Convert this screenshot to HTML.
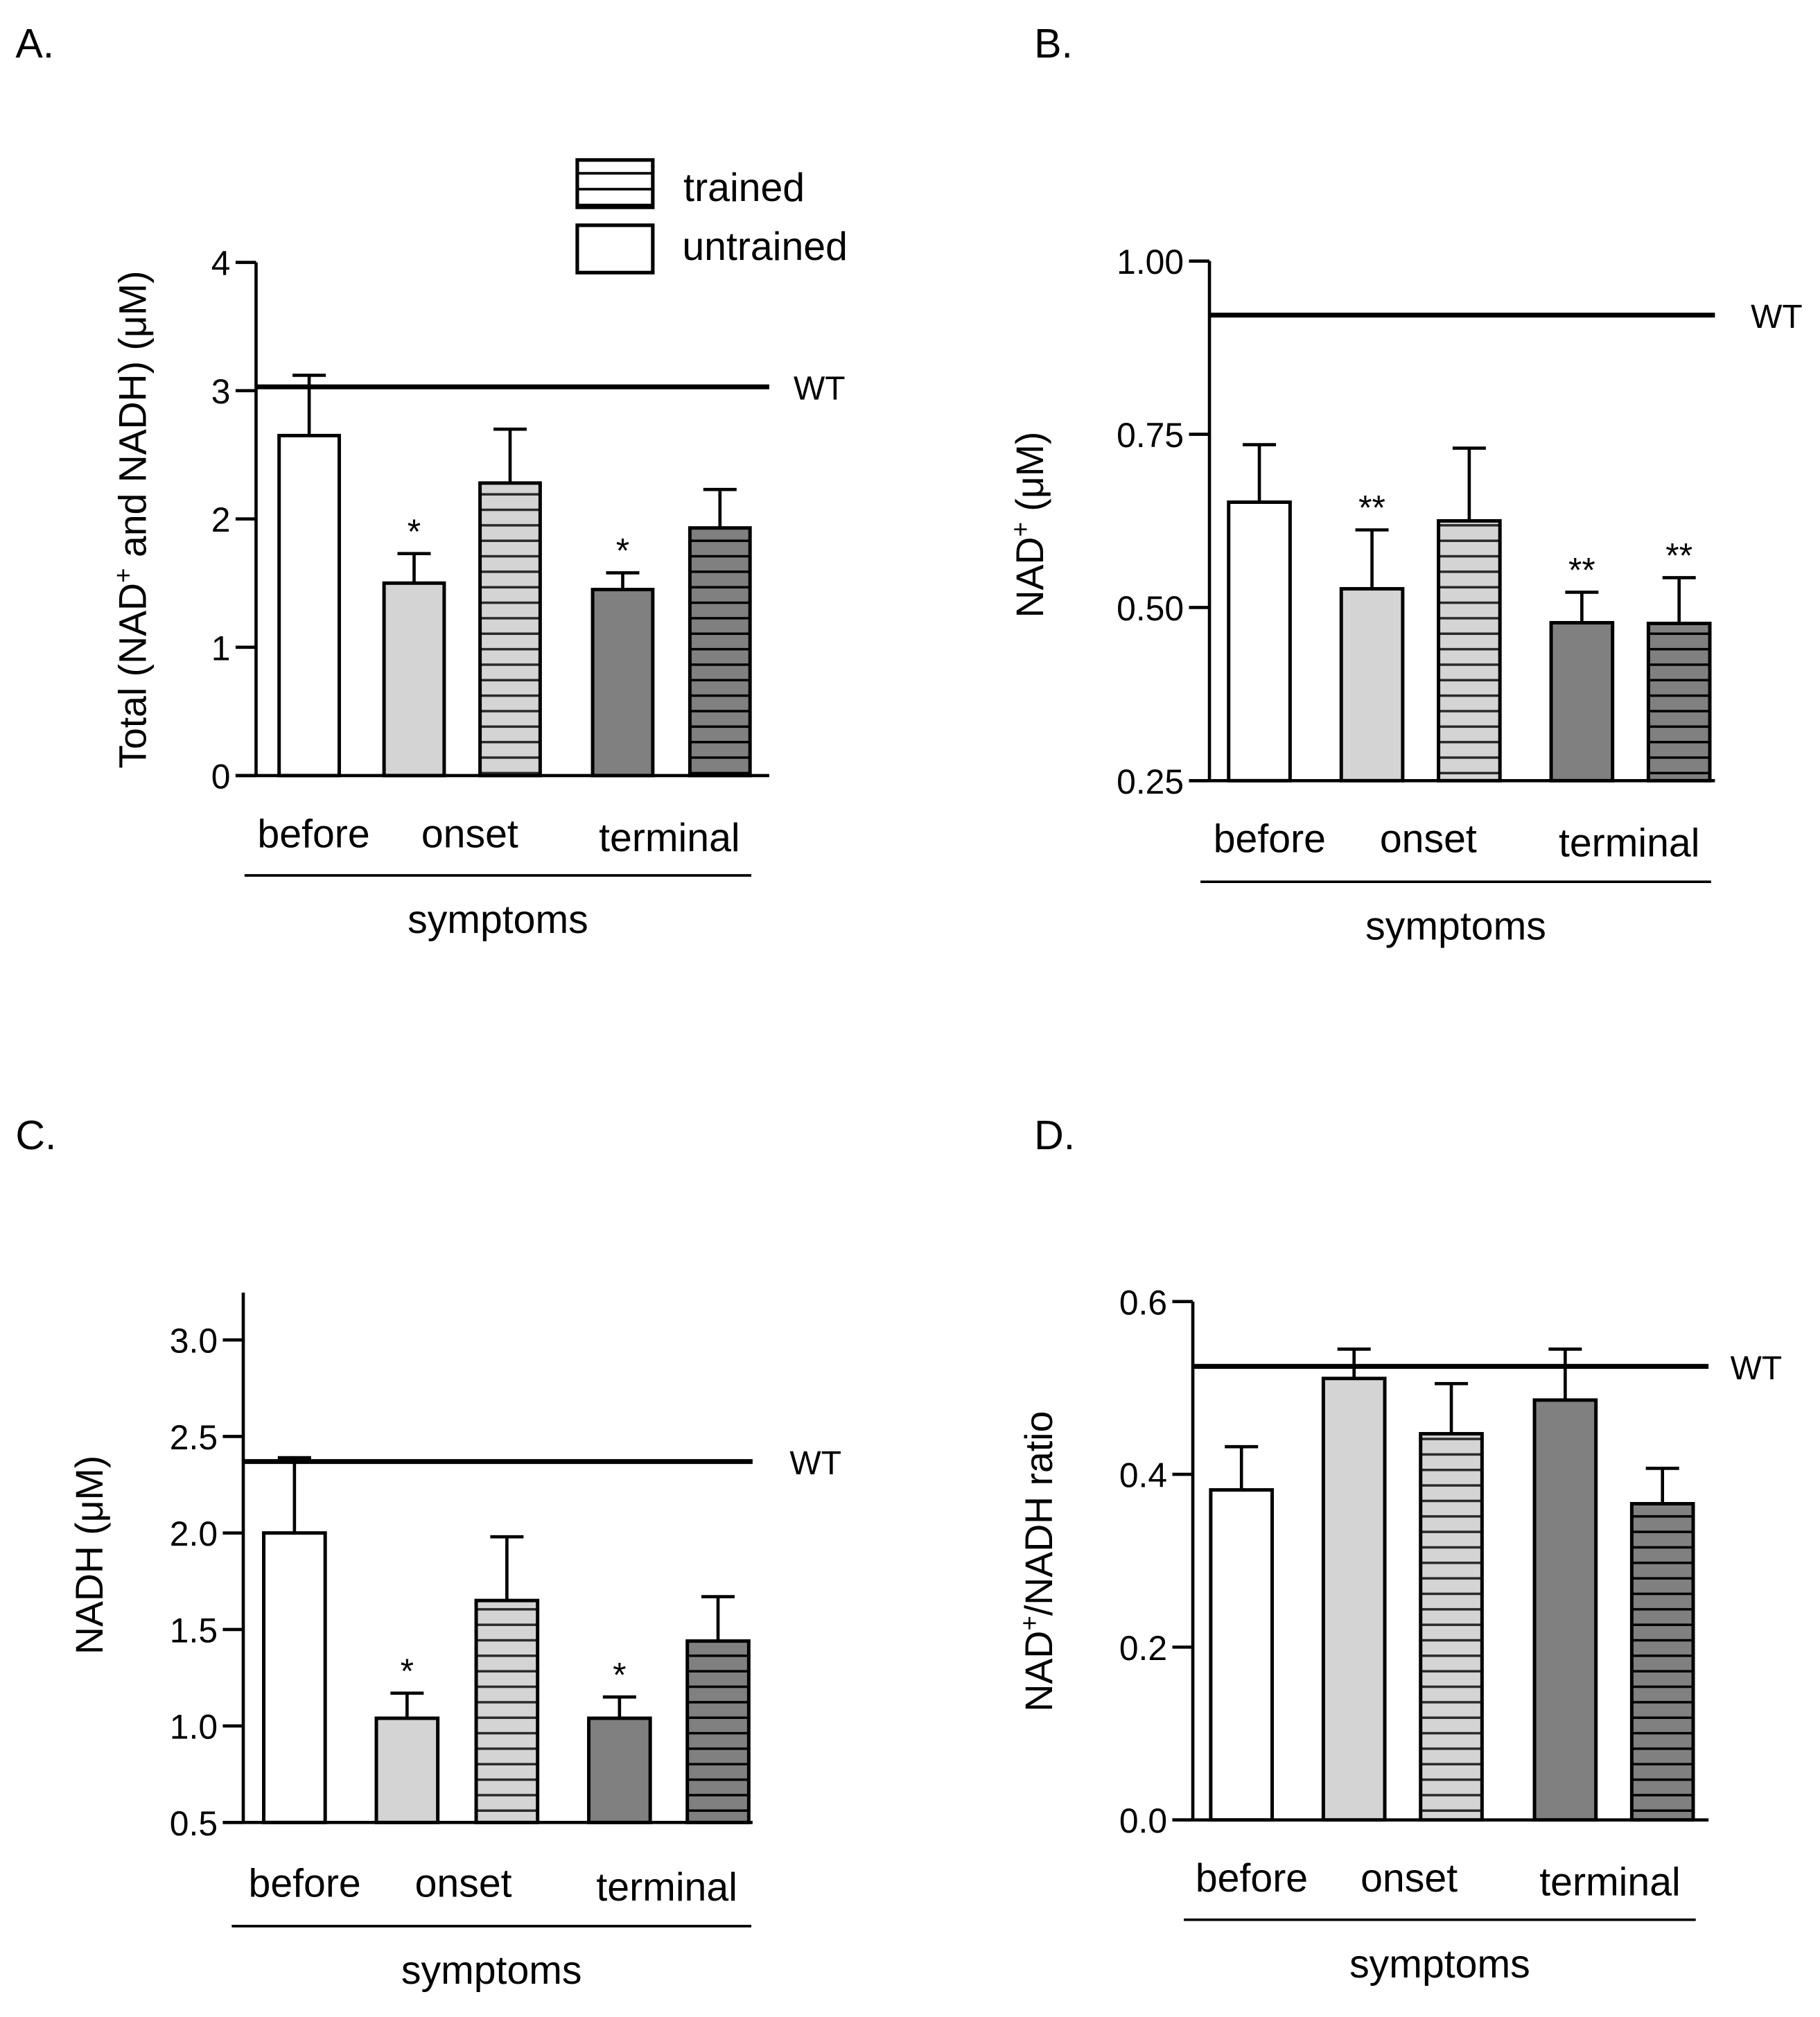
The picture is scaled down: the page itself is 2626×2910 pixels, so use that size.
<!DOCTYPE html>
<html><head><meta charset="utf-8"><style>
html,body{margin:0;padding:0;background:#fff;overflow:hidden}
svg{display:block}
text{font-family:"Liberation Sans",Arial,sans-serif;fill:#000}
</style></head><body>
<svg id="fig" width="2626" height="2910" viewBox="0 0 1422 1576" xmlns="http://www.w3.org/2000/svg">
<defs>
<pattern id="stripeLight" patternUnits="userSpaceOnUse" width="10" height="12.1"><rect width="10" height="12.1" fill="#d4d4d4"/><rect y="10.2" width="10" height="2.3" fill="#2a2a2a"/></pattern>
<pattern id="stripeDark" patternUnits="userSpaceOnUse" width="10" height="12.1"><rect width="10" height="12.1" fill="#808080"/><rect y="10.2" width="10" height="2.3" fill="#000"/></pattern>
<pattern id="stripeWhite" patternUnits="userSpaceOnUse" width="10" height="12.4"><rect width="10" height="12.4" fill="#fff"/><rect y="10.4" width="10" height="2.4" fill="#000"/></pattern>
</defs>
<g id="legend">
<rect x="451" y="125" width="59" height="37" fill="url(#stripeWhite)" stroke="#000" stroke-width="2.8"/>
<text x="534" y="157" font-size="31">trained</text>
<rect x="451" y="176" width="59" height="37" fill="#fff" stroke="#000" stroke-width="2.8"/>
<text x="533" y="203" font-size="31">untrained</text>
</g>
</svg>
<script>
// Panel data (values and error-bar tops), order: before, onset-untrained, onset-trained, terminal-untrained, terminal-trained
const aValues=[2.65,1.50,2.28,1.45,1.93];
const aErrTops=[3.12,1.73,2.70,1.58,2.23];
const aWT=3.03;
const aTicks=["0","1","2","3","4"];
const aTickVals=[0,1,2,3,4];
const aStars=["","*","","*",""];

const bValues=[0.652,0.527,0.625,0.478,0.477];
const bErrTops=[0.735,0.612,0.730,0.522,0.543];
const bWT=0.922;
const bTicks=["0.25","0.50","0.75","1.00"];
const bTickVals=[0.25,0.5,0.75,1.0];
const bStars=["","**","","**","**"];

const cValues=[2.00,1.04,1.65,1.04,1.44];
const cErrTops=[2.39,1.17,1.98,1.15,1.67];
const cWT=2.37;
const cTicks=["0.5","1.0","1.5","2.0","2.5","3.0"];
const cTickVals=[0.5,1.0,1.5,2.0,2.5,3.0];
const cStars=["","*","","*",""];

const dValues=[0.382,0.511,0.447,0.486,0.366];
const dErrTops=[0.432,0.545,0.505,0.545,0.407];
const dWT=0.525;
const dTicks=["0.0","0.2","0.4","0.6"];
const dTickVals=[0,0.2,0.4,0.6];
const dStars=["","","","",""];

const categories=["before","onset","terminal"];
const fills=["#fff","#d4d4d4","url(#stripeLight)","#808080","url(#stripeDark)"];

const NS="http://www.w3.org/2000/svg";
const svg=document.getElementById('fig');
function mk(tag,attrs,parent){const e=document.createElementNS(NS,tag);for(const k in attrs)e.setAttribute(k,attrs[k]);(parent||svg).appendChild(e);return e;}

function panel(cfg){
  const g=mk('g',{});
  
  
  const y=v=>cfg.y0+(v-cfg.vmin)/(cfg.vmax-cfg.vmin)*(cfg.y1-cfg.y0);
  const lab=mk('text',{x:cfg.labX,y:cfg.labY,'font-size':32},g);lab.textContent=cfg.letter;
  
  
  const ya=mk('line',{x1:cfg.ax,y1:cfg.axTop,x2:cfg.ax,y2:cfg.y0,stroke:'#000','stroke-width':2.5},g);
  
  
  const xa=mk('line',{x1:cfg.ax-16,y1:cfg.y0,x2:cfg.axEnd,y2:cfg.y0,stroke:'#000','stroke-width':2.5},g);
  
  
  cfg.tickVals.forEach((tv,i)=>{
    const ty=y(tv);
    const tl=mk('line',{x1:cfg.ax-16,y1:ty,x2:cfg.ax,y2:ty,stroke:'#000','stroke-width':2.5},g);
    
    
    const tt=mk('text',{x:cfg.ax-20,y:ty+10,'font-size':27,'text-anchor':'end'},g);tt.textContent=cfg.ticks[i];
    
    
  });
  const tt=mk('text',{x:0,y:0,'font-size':30,'text-anchor':'middle',transform:`translate(${cfg.titleX},${cfg.titleY}) rotate(-90)`},g);
  tt.innerHTML=cfg.title;
  
  
  cfg.values.forEach((v,i)=>{
    const bx=cfg.barX[i], bw=cfg.barW;
    const top=y(v), et=y(cfg.errTops[i]), cx=bx+bw/2;
    const el=mk('line',{x1:cx,y1:et,x2:cx,y2:top,stroke:'#000','stroke-width':2.5},g);
    
    
    const ec=mk('line',{x1:cx-13,y1:et,x2:cx+13,y2:et,stroke:'#000','stroke-width':2.5},g);
    
    
    const r=mk('rect',{x:bx,y:top,width:bw,height:cfg.y0-top,fill:fills[i],stroke:'#000','stroke-width':2.7},g);
    
    
    if(cfg.stars[i]){
      const s=mk('text',{x:cx,y:et-8,'font-size':27,'text-anchor':'middle'},g);s.textContent=cfg.stars[i];
      
      
    }
  });
  const wy=y(cfg.wt);
  const wl=mk('line',{x1:cfg.ax,y1:wy,x2:cfg.axEnd,y2:wy,stroke:'#000','stroke-width':3.8},g);
  
  
  const wt=mk('text',{x:cfg.wtX,y:wy+10,'font-size':26},g);wt.textContent='WT';
  
  
  categories.forEach((c,i)=>{
    const ct=mk('text',{x:cfg.catX[i],y:cfg.catY+(i==2?3:0),'font-size':31,'text-anchor':'middle'},g);ct.textContent=c;
    
    
  });
  const sl=mk('line',{x1:cfg.symL,y1:cfg.symY,x2:cfg.symR,y2:cfg.symY,stroke:'#000','stroke-width':2},g);
  
  
  const st=mk('text',{x:(cfg.symL+cfg.symR)/2,y:cfg.symY+45,'font-size':31,'text-anchor':'middle'},g);st.textContent='symptoms';
  
  
}
const sup='<tspan baseline-shift="super" font-size="20">+</tspan>';
panel({name:'panel-a-total-nad',letter:'A.',labX:12,labY:45,ax:200,axTop:205,axEnd:601,y0:606,y1:205,vmin:0,vmax:4,
 ticks:aTicks,tickVals:aTickVals,values:aValues,errTops:aErrTops,wt:aWT,stars:aStars,
 barX:[218,300,375,463,539],barW:47,wtX:620,title:'Total (NAD'+sup+' and NADH) (μM)',titleX:114,titleY:406,
 catX:[245,367,523],catY:662,symL:191,symR:587,symY:684});
panel({name:'panel-b-nad',letter:'B.',labX:808,labY:45,ax:945,axTop:204,axEnd:1340,y0:610,y1:204,vmin:0.25,vmax:1.0,
 ticks:bTicks,tickVals:bTickVals,values:bValues,errTops:bErrTops,wt:bWT,stars:bStars,
 barX:[960,1048,1124,1212,1288],barW:48,wtX:1368,title:'NAD'+sup+' (μM)',titleX:815,titleY:410,
 catX:[992,1116,1273],catY:666,symL:938,symR:1337,symY:689});
panel({name:'panel-c-nadh',letter:'C.',labX:12,labY:898,ax:190,axTop:1010,axEnd:588,y0:1424,y1:1047,vmin:0.5,vmax:3.0,
 ticks:cTicks,tickVals:cTickVals,values:cValues,errTops:cErrTops,wt:cWT,stars:cStars,
 barX:[206,294,372,460,537],barW:48,wtX:617,title:'NADH (μM)',titleX:80,titleY:1215,
 catX:[238,362,521],catY:1482,symL:181,symR:587,symY:1505});
panel({name:'panel-d-ratio',letter:'D.',labX:808,labY:898,ax:932,axTop:1017,axEnd:1335,y0:1422,y1:1017,vmin:0,vmax:0.6,
 ticks:dTicks,tickVals:dTickVals,values:dValues,errTops:dErrTops,wt:dWT,stars:dStars,
 barX:[946,1034,1110,1199,1275],barW:48,wtX:1352,title:'NAD'+sup+'/NADH ratio',titleX:822,titleY:1220,
 catX:[978,1101,1258],catY:1478,symL:925,symR:1325,symY:1500});
</script>
</body></html>
